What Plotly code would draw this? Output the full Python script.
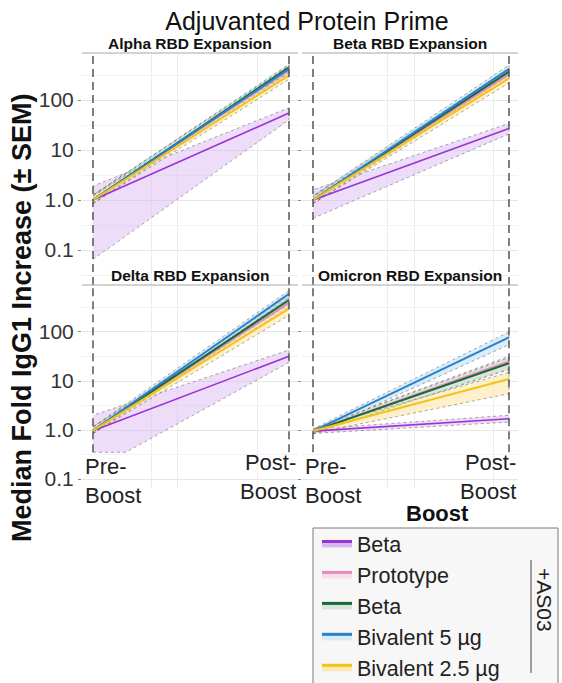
import math
import plotly.graph_objects as go

# ---------------- data ----------------
phases = ["Pre-Boost", "Post-Boost"]
phase_x = [0, 1]
panels = ["Alpha RBD Expansion", "Beta RBD Expansion", "Delta RBD Expansion", "Omicron RBD Expansion"]
groups = ["Beta", "Prototype", "Beta +AS03", "Bivalent 5 µg", "Bivalent 2.5 µg"]
legend_names = ["Beta", "Prototype", "Beta", "Bivalent 5 µg", "Bivalent 2.5 µg"]

# median fold increase [pre, post] per panel, per group (order as groups)
alpha_median = [[1.0, 55], [1.0, 400], [1.0, 450], [1.0, 420], [1.0, 310]]
alpha_low = [[0.065, 40], [0.85, 340], [0.85, 390], [0.85, 360], [0.85, 260]]
alpha_high = [[1.9, 70], [1.25, 470], [1.25, 520], [1.25, 490], [1.2, 360]]

beta_median = [[1.0, 27], [1.0, 330], [1.0, 370], [1.0, 420], [1.0, 270]]
beta_low = [[0.43, 21], [0.85, 280], [0.85, 310], [0.85, 350], [0.85, 220]]
beta_high = [[1.6, 34], [1.2, 390], [1.2, 430], [1.2, 500], [1.15, 320]]

delta_median = [[0.97, 32], [0.97, 400], [0.97, 450], [0.97, 600], [0.97, 300]]
delta_low = [[0.15, 24], [0.85, 330], [0.85, 380], [0.85, 500], [0.85, 220]]
delta_high = [[2.0, 43], [1.15, 480], [1.15, 530], [1.15, 700], [1.15, 370]]

omicron_median = [[0.95, 1.7], [0.95, 25], [0.95, 23], [0.95, 78], [0.95, 11]]
omicron_low = [[0.85, 1.45], [0.85, 18], [0.85, 17], [0.85, 55], [0.85, 5.5]]
omicron_high = [[1.05, 2.0], [1.05, 32], [1.05, 30], [1.05, 100], [1.05, 15]]

y_tickvals = [0.1, 1, 10, 100]
y_ticktext = ["0.1", "1.0", "10", "100"]

# ---------------- styles ----------------
line_colors = ["#9A32D6", "#E68BBE", "#17693A", "#2C7FC8", "#F2C41A"]
fill_colors = ["rgba(214,180,240,0.45)", "rgba(248,200,225,0.45)", "rgba(190,225,195,0.5)",
               "rgba(185,222,245,0.55)", "rgba(252,225,150,0.5)"]
legend_fill = ["#D9B8F0", "#F9DCEA", "#D6E7D8", "#D6ECF8", "#FDE8B8"]

FONT = "Liberation Sans, Arial, sans-serif"
W, H = 562, 683

panel_data = [
    (alpha_median, alpha_low, alpha_high),
    (beta_median, beta_low, beta_high),
    (delta_median, delta_low, delta_high),
    (omicron_median, omicron_low, omicron_high),
]

# pixel layout
xdom = [[82 / W, 298 / W], [302 / W, 518 / W]]
ydom = [[1 - 285 / H, 1 - 53 / H], [1 - 489 / H, 1 - 285 / H]]
yranges = [[-1.70, 2.94], [-1.204, 2.959]]
bottom_floor = 0.35  # bottom panels' visible data floor (plot area cut)

fig = go.Figure()

def clip_series(xs, ys, floor):
    """clip a straight (log) segment below floor, return new xs, ys"""
    l0, l1 = math.log10(ys[0]), math.log10(ys[1])
    lf = math.log10(floor)
    if l0 >= lf and l1 >= lf:
        return list(xs), list(ys)
    t = (lf - l0) / (l1 - l0)
    xc = xs[0] + t * (xs[1] - xs[0])
    return [xs[0], xc, xs[1]], [floor, floor, ys[1]]

for p, (med, lo, hi) in enumerate(panel_data):
    row, col = p // 2, p % 2
    ax = "" if p == 0 else str(p + 1)
    xa, ya = "x" + ax, "y" + ax
    floor = bottom_floor if row == 1 else None
    # bands
    for g in range(len(groups)):
        lx, ly = list(phase_x), list(lo[g])
        if floor is not None:
            lx, ly = clip_series(lx, ly, floor)
        bx = lx + phase_x[::-1]
        by = ly + hi[g][::-1]
        fig.add_trace(go.Scatter(
            x=bx, y=by, xaxis=xa, yaxis=ya, mode="lines", fill="toself",
            fillcolor=fill_colors[g], line=dict(color="rgba(60,60,60,0.55)", width=0.8, dash="dot"),
            showlegend=False, hoverinfo="skip"))
    # medians
    for g in range(len(groups)):
        fig.add_trace(go.Scatter(
            x=phase_x, y=med[g], xaxis=xa, yaxis=ya, mode="lines",
            line=dict(color=line_colors[g], width=1.6 if g == 0 else 2.0),
            name=legend_names[g], showlegend=False))

# legend entries
for g in range(len(groups)):
    fig.add_trace(go.Scatter(
        x=[None], y=[None], mode="lines", fill="tozeroy", fillcolor=legend_fill[g],
        line=dict(color=line_colors[g], width=3), name=legend_names[g], showlegend=True))

layout = dict(
    width=W, height=H, margin=dict(l=0, r=0, t=0, b=0, autoexpand=False),
    paper_bgcolor="white", plot_bgcolor="white",
    font=dict(family=FONT, color="#222"),
    title=dict(text="Adjuvanted Protein Prime", x=307 / W, xanchor="center", y=1 - 21 / H,
               yanchor="middle", font=dict(size=25, color="#111", family=FONT)),
    legend=dict(x=317 / W, y=1 - 523 / H, xanchor="left", yanchor="top",
                bgcolor="rgba(0,0,0,0)", borderwidth=0,
                font=dict(size=21.5, color="#222", family=FONT), tracegroupgap=0,
                itemclick=False),
)

shapes = []
annotations = []
for p in range(4):
    row, col = p // 2, p % 2
    ax = "" if p == 0 else str(p + 1)
    layout["xaxis" + ax] = dict(
        domain=xdom[col], anchor="y" + ax, range=[-0.056, 1.046],
        tickvals=[0.30, 0.43, 0.84] if col == 0 else [0.38, 0.52, 0.92],
        showticklabels=False, ticks="", showgrid=True, gridcolor="#EDEDED", gridwidth=1,
        zeroline=False, showline=False, fixedrange=True)
    layout["yaxis" + ax] = dict(
        domain=ydom[row], anchor="x" + ax, type="log", range=yranges[row],
        tickvals=y_tickvals, ticktext=y_ticktext, showticklabels=(col == 0),
        tickfont=dict(size=21, color="#333", family=FONT),
        ticks="outside", ticklen=3, tickcolor="#888", tickwidth=1,
        showgrid=True, gridcolor="#E6E6E6", gridwidth=1,
        minor=dict(tickvals=[0.0316, 0.316, 3.16, 31.6, 316], showgrid=True,
                   gridcolor="#F2F2F2", gridwidth=1, ticks=""),
        zeroline=False, showline=False, fixedrange=True)
    # strip line and title
    shapes.append(dict(type="line", xref="x" + ax + " domain", yref="y" + ax + " domain",
                       x0=0, x1=1, y0=1, y1=1, line=dict(color="#A8A8A8", width=1.2)))
    annotations.append(dict(text="<b>" + panels[p] + "</b>", xref="x" + ax + " domain",
                            yref="y" + ax + " domain", x=0.5, y=1, xanchor="center",
                            yanchor="bottom", showarrow=False, yshift=-1,
                            font=dict(size=15.5, color="#111", family=FONT)))
    # dashed vertical reference lines at each phase
    for xv in phase_x:
        shapes.append(dict(type="line", xref="x" + ax, yref="y" + ax + " domain",
                           x0=xv, x1=xv, y0=(0.18 if row == 1 else 0), y1=1,
                           line=dict(color="#555", width=1.5, dash="8px,5px"), layer="above"))
    # x tick labels (bottom panels only)
    if row == 1:
        annotations.append(dict(text=phases[0].replace("-", "-<br>"), xref="x" + ax,
                                yref="y" + ax + " domain", x=phase_x[0], y=0.18,
                                xanchor="left", yanchor="top", align="left", xshift=-10,
                                showarrow=False, font=dict(size=22, color="#222", family=FONT)))
        annotations.append(dict(text=phases[1].replace("-", "-<br>"), xref="x" + ax,
                                yref="y" + ax + " domain", x=phase_x[1], y=0.2,
                                xanchor="right", yanchor="top", align="right", xshift=9,
                                showarrow=False, font=dict(size=22, color="#222", family=FONT)))

# y-axis title
annotations.append(dict(text="<b>Median Fold IgG1 Increase (± SEM)</b>", xref="paper", yref="paper",
                        x=22 / W, y=1 - 318 / H, textangle=-90, showarrow=False,
                        xanchor="center", yanchor="middle",
                        font=dict(size=27, color="#111", family=FONT)))
# legend title
annotations.append(dict(text="<b>Boost</b>", xref="paper", yref="paper", x=437 / W, y=1 - 513 / H,
                        showarrow=False, xanchor="center", yanchor="middle",
                        font=dict(size=22, color="#111", family=FONT)))
# +AS03 bracket label
annotations.append(dict(text="+AS03", xref="paper", yref="paper", x=545 / W, y=1 - 600 / H,
                        textangle=90, showarrow=False, xanchor="center", yanchor="middle",
                        font=dict(size=21, color="#222", family=FONT)))
shapes.append(dict(type="line", xref="paper", yref="paper", x0=531 / W, x1=531 / W,
                   y0=1 - 673 / H, y1=1 - 560 / H, line=dict(color="#444", width=1)))
# legend box
shapes.append(dict(type="rect", xref="paper", yref="paper", x0=313 / W, x1=558 / W,
                   y0=-0.02, y1=1 - 528 / H, fillcolor="#F7F7F7",
                   line=dict(color="#7A7A7A", width=1), layer="below"))

layout["shapes"] = shapes
layout["annotations"] = annotations
fig.update_layout(**layout)
fig.write_html("out.html")
